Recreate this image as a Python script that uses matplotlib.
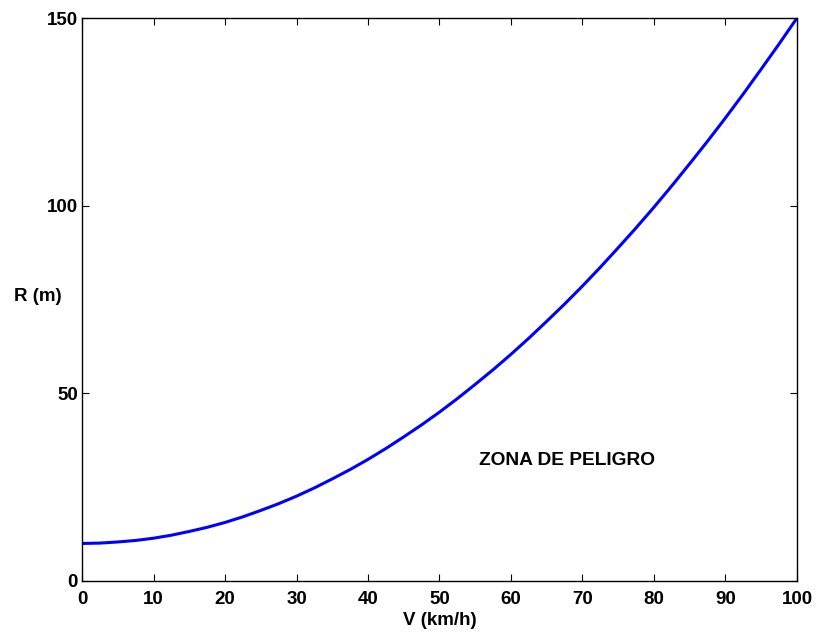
import matplotlib
matplotlib.use("Agg")
import matplotlib.pyplot as plt

# velocidad (km/h) y radio (m)
velocidad = [0, 2.5, 5, 7.5, 10, 12.5, 15, 17.5, 20, 22.5, 25, 27.5, 30,
             32.5, 35, 37.5, 40, 42.5, 45, 47.5, 50, 52.5, 55, 57.5, 60,
             62.5, 65, 67.5, 70, 72.5, 75, 77.5, 80, 82.5, 85, 87.5, 90,
             92.5, 95, 97.5, 100]
radio = [10.0, 10.1, 10.4, 10.8, 11.4, 12.2, 13.2, 14.3, 15.6, 17.1, 18.8,
         20.6, 22.6, 24.8, 27.2, 29.7, 32.4, 35.3, 38.4, 41.6, 45.0,
         48.6, 52.4, 56.3, 60.4, 64.7, 69.2, 73.8, 78.6, 83.6, 88.8,
         94.1, 99.6, 105.3, 111.2, 117.2, 123.4, 129.8, 136.4, 143.1, 150.0]

x_ticks = [0, 10, 20, 30, 40, 50, 60, 70, 80, 90, 100]
y_ticks = [0, 50, 100, 150]

plt.rcParams['font.family'] = ['Liberation Sans', 'DejaVu Sans']
plt.rcParams['font.weight'] = 'bold'

fig = plt.figure(figsize=(8.16, 6.32), dpi=100)
ax = fig.add_axes([0.1005, 0.0807, 0.8762, 0.8908])

ax.plot(velocidad, radio, color='#0000ff', linewidth=2.2)

ax.set_xlim(0, 100)
ax.set_ylim(0, 150)
ax.set_xticks(x_ticks)
ax.set_yticks(y_ticks)
ax.tick_params(direction='in', top=True, right=True, length=5,
               labelsize=13.5, width=0.8)
ax.tick_params(axis='x', pad=7)
ax.tick_params(axis='y', pad=3)
for lbl in ax.get_xticklabels() + ax.get_yticklabels():
    lbl.set_fontweight('bold')
for s in ax.spines.values():
    s.set_linewidth(1.0)

ax.set_xlabel('V (km/h)', fontsize=13.5, fontweight='bold', labelpad=3)
ax.set_ylabel('R (m)', fontsize=13.5, fontweight='bold', rotation=0,
              ha='center', va='center')
ax.yaxis.set_label_coords(-0.0615, 0.506)
ax.text(55.5, 32, 'ZONA DE PELIGRO', fontsize=13.8, fontweight='bold',
        va='center', ha='left')

fig.savefig('out.png', dpi=100)
